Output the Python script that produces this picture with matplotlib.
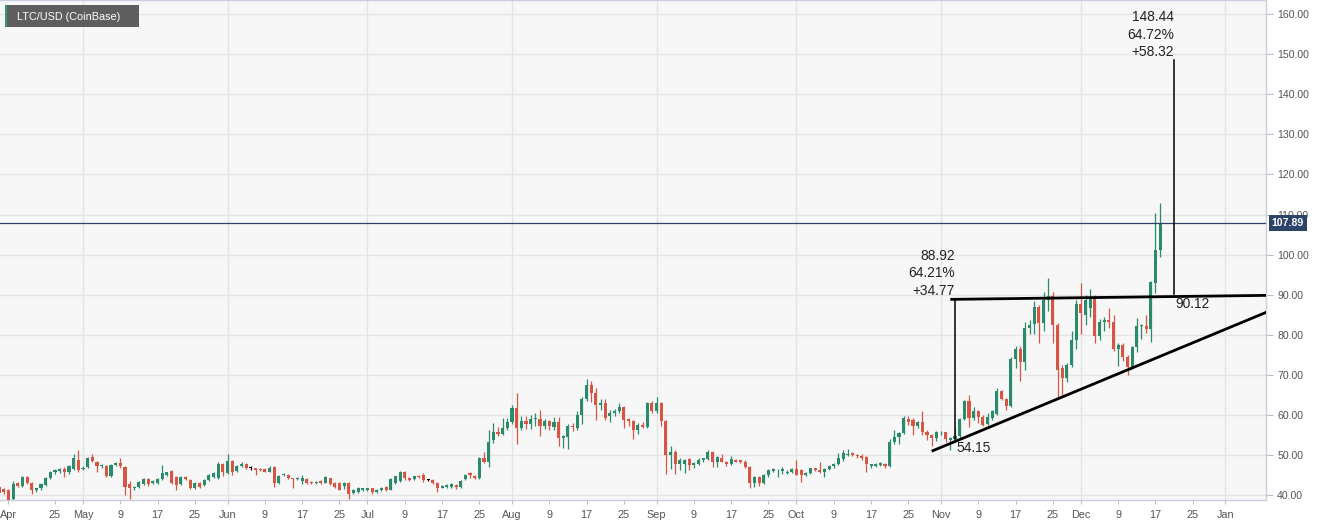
import matplotlib
matplotlib.use("Agg")
import matplotlib.pyplot as plt
from matplotlib.patches import Rectangle
import numpy as np
import pandas as pd

plt.rcParams['font.family'] = ['Liberation Sans', 'DejaVu Sans']

title = "LTC/USD (CoinBase)"
start_date = "2020-04-13"
last_price = 107.89

# daily candles (open, high, low, close)
ohlc_apr = [(42.0,42.4,40.3,40.6),(41.5,41.9,40.4,40.9),(41.2,41.5,38.7,38.9),(39.0,43.6,38.6,42.8),
            (43.1,43.4,42.0,42.3),(42.3,44.8,42.1,44.6),(44.6,44.8,42.8,43.0),(43.0,43.3,40.3,41.2),
            (41.2,41.9,40.9,41.7),(41.7,43.0,41.4,42.8),(42.6,44.6,42.2,44.4),(44.4,46.0,44.0,45.8),
            (45.8,46.6,45.4,46.2),(46.0,46.8,45.6,46.5),(46.5,47.0,44.6,45.8),(45.8,47.6,45.4,47.2),
            (46.6,50.4,46.2,49.2),(48.8,51.2,45.8,46.4)]
ohlc_may = [(46.5,47.2,46.2,46.9),(47.0,49.5,46.8,49.3),(49.6,50.2,48.2,48.5),(48.3,48.6,45.7,47.2),
            (47.2,47.8,46.8,47.5),(47.4,47.6,44.5,44.8),(44.9,47.9,44.6,47.6),(47.6,48.4,47.2,48.0),
            (48.0,49.4,46.8,47.2),(47.0,47.2,40.0,42.1),(42.8,43.5,39.2,41.7),(41.7,42.4,41.2,42.1),
            (42.1,43.6,41.8,43.4),(42.8,44.3,42.5,44.0),(44.0,44.3,42.4,42.7),(43.0,43.8,42.7,43.6),
            (43.1,44.3,42.9,44.0),(44.0,47.6,43.8,45.5),(45.0,45.9,44.7,45.7),(46.1,46.3,42.9,43.1),
            (44.5,44.8,41.4,42.5),(42.8,44.8,42.5,44.5),(44.5,44.8,43.8,44.0),(43.8,44.1,41.6,41.9),
            (41.9,43.2,41.6,43.0),(43.0,43.3,41.9,42.1),(42.5,44.0,42.2,43.8),(43.8,45.3,43.5,45.1),
            (44.5,45.8,44.2,45.5),(44.2,48.2,44.0,47.9),(47.9,48.1,44.8,45.7)]
ohlc_jun = [(45.5,50.2,45.2,48.5),(48.5,48.9,45.0,45.9),(46.1,47.6,45.8,47.4),(47.2,48.2,47.0,47.8),
            (47.8,48.1,46.6,46.8),(46.8,47.2,46.4,46.8),(46.8,46.9,45.1,46.4),(46.6,46.8,46.0,46.2),
            (46.5,46.7,45.7,45.9),(45.9,47.2,45.7,46.9),(47.0,47.2,42.1,43.1),(43.1,45.0,42.8,44.8),
            (45.0,45.5,44.7,45.2),(45.1,45.3,44.0,44.2),(44.2,44.4,41.7,44.0),(44.0,44.6,43.7,44.3),
            (43.6,45.1,42.9,44.2),(44.0,44.2,42.9,43.1),(43.4,43.6,42.8,43.0),(43.0,43.6,42.8,43.4),
            (43.6,43.8,42.9,43.1),(43.1,44.7,43.0,44.5),(44.2,44.4,42.6,42.8),(43.0,43.2,41.9,42.1),
            (43.0,43.2,41.2,41.4),(42.3,43.2,41.6,43.0),(43.1,43.3,39.2,40.4),(40.6,41.6,40.3,41.4),
            (40.8,42.1,40.6,41.9),(41.3,41.9,41.0,41.7)]
ohlc_jul = [(41.3,41.9,41.0,41.7),(41.7,41.8,40.3,40.8),(40.8,41.6,40.6,41.4),(41.3,42.1,41.1,41.9),
            (42.1,42.3,41.0,41.3),(41.4,44.2,41.3,44.0),(43.1,44.9,42.9,44.7),(43.6,46.1,43.4,45.7),
            (45.7,46.0,43.9,44.2),(44.2,44.5,43.6,43.8),(44.0,44.9,43.8,44.7),(44.8,45.0,44.3,44.5),
            (45.1,45.5,43.3,43.8),(43.8,44.1,43.5,43.8),(43.8,44.0,42.8,43.0),(43.1,43.3,40.8,41.7),
            (41.9,42.5,41.7,42.2),(42.0,42.8,41.8,42.6),(42.1,43.0,41.9,42.8),(42.6,42.8,41.5,42.0),
            (42.0,43.8,41.8,43.6),(44.0,45.3,43.8,45.1),(45.5,45.8,44.3,45.0),(44.9,45.1,44.0,44.2),
            (44.2,49.6,44.0,49.2),(49.2,50.7,48.0,48.4),(48.4,56.2,47.0,53.4),(53.7,58.0,53.0,55.9),
            (55.9,57.0,54.9,55.4),(55.4,59.3,55.0,56.8),(56.8,59.3,56.3,58.2)]
ohlc_aug = [(58.2,62.6,57.9,61.8),(61.8,65.4,52.8,56.8),(56.8,59.7,56.2,58.5),(58.5,59.7,56.5,57.9),
            (57.9,60.0,56.5,59.0),(59.0,60.4,57.3,59.3),(59.0,61.2,54.7,57.4),(57.4,59.0,56.6,58.5),
            (58.5,58.7,56.4,57.2),(57.0,59.5,56.4,58.2),(58.2,59.5,52.3,54.3),(54.3,55.0,51.8,54.7),
            (54.5,57.8,51.6,57.2),(57.4,58.0,56.0,57.0),(56.8,61.0,56.4,60.0),(60.0,64.5,57.8,64.1),
            (64.1,69.1,63.5,67.4),(67.4,68.5,63.2,65.6),(65.6,66.8,58.9,62.4),(62.4,64.0,61.2,63.1),
            (63.1,64.1,58.9,59.3),(59.7,61.3,58.2,60.5),(60.5,61.6,59.8,61.0),(61.0,62.9,60.6,62.0),
            (62.0,62.3,56.8,58.7),(59.0,59.3,57.3,58.5),(58.5,58.7,54.0,56.2),(56.2,58.0,55.4,57.6),
            (57.6,58.2,56.8,57.0),(57.0,63.3,56.8,63.1),(63.1,63.6,60.6,61.0)]
ohlc_sep = [(61.0,64.6,60.6,62.9),(62.9,63.2,57.3,58.5),(58.5,58.8,45.3,50.1),(50.1,52.2,46.5,50.9),
            (50.9,51.2,45.3,47.8),(47.8,49.3,46.4,48.7),(47.9,49.0,45.6,48.8),(49.0,49.4,46.3,47.6),
            (47.6,48.4,46.8,48.0),(47.8,49.2,47.5,48.8),(48.8,49.4,48.4,49.2),(49.0,51.4,48.8,50.9),
            (50.9,51.0,47.1,48.4),(48.4,49.7,47.1,49.5),(49.2,50.2,48.2,48.4),(48.4,48.6,47.2,47.8),
            (47.8,49.7,47.5,49.0),(48.8,49.0,48.2,48.4),(48.7,48.9,48.1,48.4),(48.4,48.8,46.8,47.0),
            (47.0,47.3,41.7,43.0),(43.1,44.8,42.0,44.5),(44.5,44.7,42.3,43.0),(43.0,45.3,42.8,45.1),
            (45.1,46.6,44.5,46.2),(46.1,46.7,45.7,46.5),(46.2,46.5,44.6,46.4),(46.1,47.0,45.4,46.5),
            (45.5,46.2,45.2,45.9),(45.9,46.7,45.6,46.5)]
ohlc_oct = [(46.5,48.7,45.0,45.1),(46.3,46.5,43.4,45.1),(45.1,45.8,44.9,45.6),(45.6,46.9,45.3,46.7),
            (46.7,46.9,46.1,46.3),(46.3,48.2,45.5,45.9),(45.9,46.7,44.6,46.5),(46.5,47.6,46.2,47.2),
            (47.2,48.1,46.9,47.8),(47.8,50.5,47.6,49.2),(49.0,51.3,48.6,50.5),(50.1,51.5,49.8,50.4),
            (50.5,50.9,49.8,50.1),(50.1,50.4,49.4,49.7),(49.8,50.2,48.9,49.2),(49.5,49.8,45.9,47.8),
            (47.2,47.9,46.8,47.7),(47.3,48.0,47.0,47.7),(47.6,48.4,47.3,48.0),(47.9,48.1,46.8,47.2),
            (47.2,54.0,47.0,53.2),(53.2,56.2,52.8,54.5),(54.5,55.8,52.8,55.5),(55.5,59.8,55.2,59.2),
            (59.0,59.8,57.6,58.2),(58.8,59.2,55.1,57.2),(57.2,58.6,56.8,58.2),(58.2,60.9,55.1,55.9),
            (55.9,56.2,53.9,55.1),(55.1,55.4,52.4,54.3),(54.3,56.1,53.6,55.7)]
ohlc_nov = [(55.7,56.1,55.0,55.9),(55.7,55.9,53.2,54.0),(53.8,54.5,51.4,54.3),(54.0,56.7,53.2,54.8),
            (54.8,59.3,54.3,59.0),(59.0,63.8,58.8,63.4),(63.4,65.0,57.0,59.2),(59.2,62.1,58.8,60.9),
            (60.9,61.3,58.1,59.5),(59.5,60.0,57.3,57.6),(57.8,60.6,57.5,59.5),(59.2,61.3,58.8,60.9),
            (60.3,66.7,60.1,65.9),(65.9,66.3,63.8,64.0),(64.0,64.2,61.2,62.3),(62.3,74.5,62.0,73.9),
            (73.9,77.3,71.7,76.4),(76.4,77.3,68.4,73.3),(73.3,83.3,71.2,81.6),(81.6,83.8,80.1,82.5),
            (82.7,88.5,80.2,87.0),(87.0,87.5,77.9,82.9),(82.9,90.7,81.0,88.7),(88.7,94.2,86.0,89.8),
            (89.8,90.7,77.9,82.5),(82.5,83.0,64.6,71.3),(71.7,72.5,65.0,69.2),(69.2,73.0,68.3,72.5),
            (72.5,81.0,72.0,78.7),(78.7,88.6,76.6,87.8)]
ohlc_dec = [(87.8,93.0,80.1,85.4),(84.9,90.0,82.5,88.7),(86.8,91.5,84.5,89.1),(89.1,90.0,77.9,79.6),
            (79.6,84.0,78.8,83.3),(83.3,84.5,81.0,83.7),(83.7,86.8,81.8,83.3),(83.3,84.9,76.0,76.6),
            (76.6,78.0,72.3,77.5),(77.5,78.0,73.5,74.6),(74.6,75.0,70.0,72.1),(72.1,77.2,71.6,76.9),
            (76.9,84.3,75.8,82.2),(82.2,82.8,79.0,82.4),(82.2,84.9,80.5,81.4),(81.4,93.4,78.3,93.2),
            (92.9,110.3,90.4,101.1),(101.1,113.0,99.4,107.89)]

# measurement annotations
meas1_date, meas1_low, meas1_high, meas1_pct, meas1_chg = "2020-11-04", 54.15, 88.92, "64.21%", "+34.77"
meas2_date, meas2_low, meas2_high, meas2_pct, meas2_chg = "2020-12-21", 90.12, 148.44, "64.72%", "+58.32"
resistance = [("2020-11-03", 88.85), ("2021-01-10", 89.85)]
support = [("2020-10-30", 51.0), ("2021-01-10", 85.75)]

y_ticks = [40, 50, 60, 70, 80, 90, 100, 110, 120, 130, 140, 150, 160]

GREEN = "#2a8a6c"
RED = "#d75643"

t0 = pd.Timestamp(start_date)
def dnum(s):
    return (pd.Timestamp(s) - t0).days

allc = ohlc_apr + ohlc_may + ohlc_jun + ohlc_jul + ohlc_aug + ohlc_sep + ohlc_oct + ohlc_nov + ohlc_dec
arr = np.array(allc, dtype=float)
o, h, l, c = arr[:, 0], arr[:, 1], arr[:, 2], arr[:, 3]
x = np.arange(len(arr))

W, H = 1331, 526
fig = plt.figure(figsize=(W / 100, H / 100), dpi=100)
fig.patch.set_facecolor("white")
ax = fig.add_axes([0, 26 / H, 1266 / W, 500 / H])
ax.set_facecolor("#f7f7f7")

ax.set_xlim(0.2, 271.7)
ax.set_ylim(38.83, 163.49)

# grid
for yt in y_ticks:
    ax.axhline(yt, color="#e4e4e4", lw=1.0, zorder=0)
for m in pd.date_range("2020-05-01", "2021-01-01", freq="MS"):
    ax.axvline(dnum(m), color="#e4e4e4", lw=1.0, zorder=0)

# candles
cols = [GREEN if cc > oo else (RED if cc < oo else "black") for oo, cc in zip(o, c)]
ax.vlines(x, l, h, colors=cols, lw=0.9, zorder=3)
bot = np.minimum(o, c)
hgt = np.maximum(np.abs(c - o), 0.15)
ax.bar(x, hgt, bottom=bot, width=0.66, color=cols, linewidth=0, zorder=4)

# last price line
ax.axhline(last_price, color="#2e4466", lw=0.9, zorder=5)
ax.annotate(f"{last_price:.2f}", xy=(1, last_price), xycoords=("axes fraction", "data"),
            xytext=(4, 0), textcoords="offset points", ha="left", va="center",
            color="white", fontsize=7.6, fontweight="bold", annotation_clip=False,
            bbox=dict(boxstyle="square,pad=0.28", fc="#2b4468", ec="none"), zorder=10)

# trend lines
ax.plot([dnum(d) for d, _ in resistance], [v for _, v in resistance], color="black", lw=2.0, zorder=6, solid_capstyle="butt")
ax.plot([dnum(d) for d, _ in support], [v for _, v in support], color="black", lw=2.0, zorder=6, solid_capstyle="butt")

# measurements
for dd, lo, hi, pct, chg in [(meas1_date, meas1_low, meas1_high, meas1_pct, meas1_chg),
                             (meas2_date, meas2_low, meas2_high, meas2_pct, meas2_chg)]:
    xd = dnum(dd)
    ax.plot([xd, xd], [lo, hi], color="black", lw=1.1, zorder=6)
    ax.annotate(f"{hi:.2f}\n{pct}\n{chg}", xy=(xd, hi), xytext=(0, 1), textcoords="offset points",
                ha="right", va="bottom", multialignment="right", fontsize=9.9, color="#222222",
                linespacing=1.3, zorder=7)
    ax.annotate(f"{lo:.2f}", xy=(xd, lo), xytext=(1, -2), textcoords="offset points",
                ha="left", va="top", fontsize=9.9, color="#222222", zorder=7)

# axes styling
ax.spines["left"].set_visible(False)
for s in ["right", "bottom", "top"]:
    ax.spines[s].set_color("#c9cfdd")
    ax.spines[s].set_linewidth(1.0)

ax.yaxis.tick_right()
ax.set_yticks(y_ticks)
ax.set_yticklabels([f"{v:.2f}" for v in y_ticks])
ax.tick_params(axis="y", length=5, width=0.8, color="#b8bfcc", pad=3, labelsize=7.6, labelcolor="#555555")

xt, xl = [2.0], ["Apr"]
for m in pd.date_range("2020-04-01", "2021-01-01", freq="MS"):
    for day in [1, 9, 17, 25]:
        dt = m + pd.Timedelta(days=day - 1)
        d = dnum(dt)
        if 10 < d < 271:
            xt.append(d)
            xl.append(dt.strftime("%b") if day == 1 else str(day))
ax.set_xticks(xt)
ax.set_xticklabels(xl)
ax.tick_params(axis="x", length=3, width=0.8, color="#b8bfcc", pad=4, labelsize=7.8, labelcolor="#555555")

# title box
fig.patches.append(Rectangle((5 / W, 1 - 27 / H), 134 / W, 22 / H, transform=fig.transFigure,
                             facecolor="#5e5e5e", edgecolor="none", zorder=20))
fig.patches.append(Rectangle((5 / W, 1 - 27 / H), 2.2 / W, 22 / H, transform=fig.transFigure,
                             facecolor="#2e9c7c", edgecolor="none", zorder=21))
fig.text(17 / W, 1 - 16.5 / H, title, color="white", fontsize=7.8, ha="left", va="center", zorder=22)

fig.savefig("out.png", dpi=100, facecolor="white")
